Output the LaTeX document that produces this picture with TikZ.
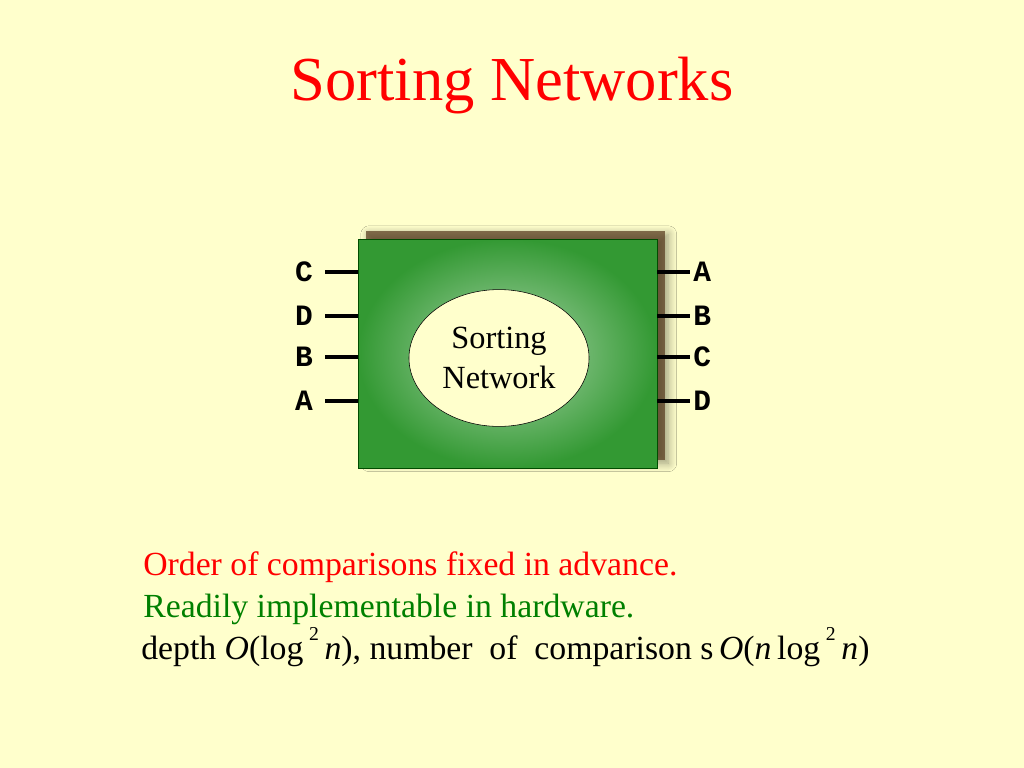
\documentclass[tikz,border=0pt]{standalone}
\usepackage{fontspec}
\setmainfont{Liberation Serif}
\setmonofont{Liberation Mono}
\usetikzlibrary{positioning, shapes.geometric, shadows.blur}
\definecolor{paper}{RGB}{255,255,204}
\definecolor{boxgreen}{RGB}{51,153,51}
\definecolor{textgreen}{RGB}{0,128,0}
\newcommand{\ital}[1]{\textit{#1}}
\newcommand{\sqr}{\raisebox{0.55em}{\fontsize{14}{14}\selectfont 2}}
\tikzset{
  pin/.style={line width=2.2pt},
  pinlabel/.style={font=\fontsize{21}{22}\selectfont\ttfamily\bfseries, inner sep=0pt},
  textline/.style={anchor=base west, inner sep=0pt, font=\fontsize{24}{27}\selectfont}
}
\begin{document}
\begin{tikzpicture}[x=0.025cm, y=-0.025cm]
		\fill [paper] (0,0) rectangle (1024,768);
		\useasboundingbox (0,0) rectangle (1024,768);
		
		\node [red, font=\fontsize{44.5}{48}\selectfont, anchor=base] (title) at (512,101) {Sorting Networks};
		
		\begin{scope}
			\fill [black!55!brown, opacity=0.7, blur shadow={shadow blur steps=10, shadow blur radius=6pt}] (366,231) rectangle (665,460);
			\shade [inner color=boxgreen!40!white, outer color=boxgreen, draw=black!70!green] (358,239) rectangle (657,468);
			\node [draw, fill=paper, ellipse, minimum width=4.5cm, minimum height=3.42cm, inner sep=0pt,
			       align=center, font=\fontsize{23}{28}\selectfont] (net) at (499,358) {Sorting\\Network};
		\end{scope}
		
		\foreach \lab/\y in {C/272, D/316, B/357, A/401} {
			\coordinate (in\lab) at (358,\y);
			\node [pinlabel, anchor=east] (l\lab) at (313,\y) {\lab};
			\draw [pin] (in\lab) -- ++(-33,0);
		}
		\foreach \lab/\y in {A/272, B/316, C/357, D/401} {
			\coordinate (out\lab) at (657,\y);
			\node [pinlabel, anchor=west] (r\lab) at (693,\y) {\lab};
			\draw [pin] (out\lab) -- ++(33,0);
		}
		
		\begin{scope}
			\node [textline, red] (order) at (143,575) {Order of comparisons fixed in advance.};
			\node [textline, textgreen] (ready) at (143,617) {Readily implementable in hardware.};
			\node [textline] (depth) at (141,659) {depth \ital{O}(log\,\sqr\,\ital{n}), number\ \ of\ \ comparison s\,\ital{O}(\ital{n}\,log\,\sqr\,\ital{n})};
		\end{scope}
	\end{tikzpicture}
\end{document}
